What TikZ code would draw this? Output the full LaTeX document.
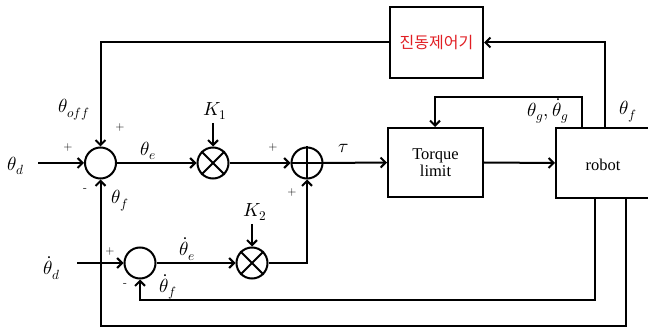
\documentclass[tikz,border=0pt]{standalone}
\usepackage{fontspec}
\usepackage{unicode-math}
\setmainfont{Liberation Serif}
\setmathfont{Latin Modern Math}
\newfontfamily\krfont{Noto Sans CJK KR}
\usetikzlibrary{arrows.meta}
\definecolor{kred}{RGB}{225,30,35}
\begin{document}
\begin{tikzpicture}[x=1pt,y=-1pt,
  line width=2pt,
  arr/.style={-{Straight Barb[length=5pt,width=10pt]}},
  circ/.style={circle,draw,minimum size=31pt,inner sep=0pt},
  blk/.style={rectangle,draw,inner sep=0pt,align=center,font=\fontsize{16.5}{18}\selectfont},
  lbl/.style={inner sep=0pt,font=\fontsize{19}{21}\selectfont},
  sgn/.style={inner sep=0pt,font=\fontsize{12}{14}\selectfont\sffamily}]
\clip (0,0) rectangle (648,331);
\fill[white] (0,0) rectangle (648,331);
% blocks
\node[blk,minimum width=93pt,minimum height=71pt] (vib) at (436.5,42.5) {\krfont\color{kred}\fontsize{16}{18}\selectfont 진동제어기};
\node[blk,minimum width=95pt,minimum height=69pt] (tl) at (435.5,162.5) {Torque\\[-1pt]limit};
\node[blk,minimum width=110pt,minimum height=70pt] (robot) at (611,163) {};
\node[inner sep=0pt,font=\fontsize{16.5}{18}\selectfont] (robtxt) at (603,165) {robot};
% circles
\node[circ] (s1) at (100.5,163) {};
\node[circ] (k1) at (213,163) {};
\node[circ] (s2) at (307,163) {};
\node[circ] (s3) at (140,263) {};
\node[circ] (k2) at (252,263) {};
\draw (k1.north east) -- (k1.south west) (k1.north west) -- (k1.south east);
\draw (k2.north east) -- (k2.south west) (k2.north west) -- (k2.south east);
\draw (s2.north) -- (s2.south) (s2.west) -- (s2.east);
% coordinates
\coordinate (thdin) at (38,163);
\coordinate (thddin) at (77,263);
\coordinate (ra) at (582,128);
\coordinate (rb) at (605,128);
\coordinate (rc) at (595,198);
\coordinate (rd) at (626,198);
% gain labels
\node[lbl] (K1) at (215,111) {$K_1$};
\node[lbl] (K2) at (255,212) {$K_2$};
\draw[arr] (213,123) -- (k1.north);
\draw[arr] (252,224) -- (k2.north);
% main path
\draw[arr] (thdin) -- (s1.west);
\draw[arr] (s1.east) -- (k1.west);
\draw[arr] (k1.east) -- (s2.west);
\draw[arr] (s2.east) -- (tl.west);
\draw[arr] (tl.east) -- (robot.west);
% derivative path
\draw[arr] (thddin) -- (s3.west);
\draw[arr] (s3.east) -- (k2.west);
\draw[arr] (k2.east) -| (s2.south);
% feedbacks
\draw[arr] (rb) |- (vib.east);
\draw[arr] (vib.west) -| (s1.north);
\draw[arr] (ra) |- (435,97) -- (tl.north -| 435,0);
\draw[arr] (rc) |- (140,300) -- (s3.south);
\draw[arr] (rd) |- (100.5,326) -- (s1.south);
% labels
\node[lbl] (l1) at (16,166) {$\theta_d$};
\node[lbl] (l2) at (74,110) {$\theta_{off}$};
\node[lbl] (l3) at (148,151) {$\theta_e$};
\node[lbl] (l4) at (120,201) {$\theta_f$};
\node[lbl] (l5) at (344,149) {$\tau$};
\node[lbl] (l6) at (548,111) {$\theta_g,\dot\theta_g$};
\node[lbl] (l7) at (628,112) {$\theta_f$};
\node[lbl] (l8) at (52,268) {$\dot\theta_d$};
\node[lbl] (l9) at (187,249) {$\dot\theta_e$};
\node[lbl] (l10) at (168,287) {$\dot\theta_f$};
\node[sgn] (p1) at (68,148) {+};
\node[sgn] (p2) at (120,128) {+};
\node[sgn] (m1) at (85,190) {-};
\node[sgn] (p3) at (273,148) {+};
\node[sgn] (p4) at (292,193) {+};
\node[sgn] (p5) at (110,252) {+};
\node[sgn] (m2) at (125,285) {-};
\end{tikzpicture}
\end{document}
